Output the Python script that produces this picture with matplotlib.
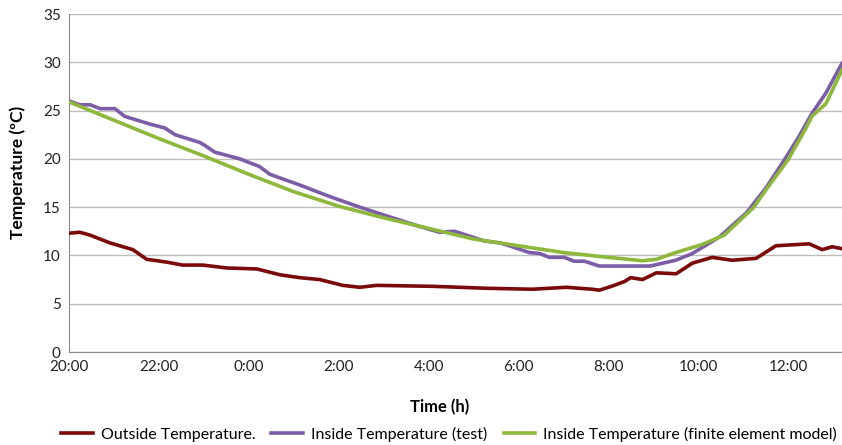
# -*- coding: utf-8 -*-
# temperature test vs finite element model, 20:00 -> ~13:10
import matplotlib
matplotlib.use('Agg')
import matplotlib.pyplot as plt

# hours after 20:00
outside_h = [0.0, 0.24, 0.47, 0.91, 1.42, 1.73, 2.18, 2.53, 2.98, 3.51, 4.18, 4.69,
             5.13, 5.58, 6.09, 6.47, 6.84, 8.09, 9.29, 10.31, 11.07, 11.64, 11.8,
             12.07, 12.36, 12.5, 12.76, 13.07, 13.51, 13.87, 14.31, 14.76, 15.29,
             15.73, 16.47, 16.76, 16.98, 17.2]
outside_t = [12.3, 12.4, 12.1, 11.3, 10.6, 9.6, 9.3, 9.0, 9.0, 8.7, 8.6, 8.0,
             7.7, 7.5, 6.9, 6.7, 6.9, 6.8, 6.6, 6.5, 6.7, 6.5, 6.4,
             6.8, 7.3, 7.7, 7.5, 8.2, 8.1, 9.2, 9.8, 9.5, 9.7,
             11.0, 11.2, 10.6, 10.9, 10.7]

test_h = [0.0, 0.24, 0.47, 0.69, 1.02, 1.24, 1.8, 2.13, 2.36, 2.91, 3.02, 3.24,
          3.8, 4.24, 4.47, 5.13, 5.8, 6.47, 7.13, 7.8, 8.24, 8.58, 8.91, 9.24,
          9.58, 9.8, 10.24, 10.47, 10.69, 11.02, 11.24, 11.47, 11.8, 12.4, 12.93,
          13.5, 13.87, 14.47, 15.07, 15.51, 15.96, 16.24, 16.53, 16.84, 17.2]
test_t = [26.0, 25.6, 25.6, 25.2, 25.2, 24.4, 23.6, 23.2, 22.5, 21.7, 21.4, 20.7,
          20.0, 19.2, 18.4, 17.3, 16.1, 15.0, 14.0, 13.0, 12.4, 12.5, 12.0, 11.5,
          11.3, 11.0, 10.3, 10.2, 9.8, 9.8, 9.4, 9.4, 8.9, 8.9, 8.9,
          9.5, 10.2, 11.9, 14.4, 17.0, 20.2, 22.3, 24.7, 26.8, 29.9]

model_h = [0, 1, 2, 3, 4, 5, 6, 7, 8, 9, 10, 11, 12, 12.76, 13.07, 13.5, 14.07,
           14.58, 15.24, 15.51, 16.0, 16.4, 16.53, 16.84, 17.2]
model_t = [25.9, 24.0, 22.1, 20.3, 18.4, 16.6, 15.1, 13.9, 12.8, 11.7, 11.0, 10.3,
           9.8, 9.45, 9.6, 10.3, 11.1, 12.1, 15.0, 16.8, 19.9, 23.2, 24.4, 25.7, 29.2]

tick_pos = [0, 2, 4, 6, 8, 10, 12, 14, 16]
tick_labels = ['20:00', '22:00', '0:00', '2:00', '4:00', '6:00', '8:00', '10:00', '12:00']

labels = ['Outside Temperature.', 'Inside Temperature (test)',
          'Inside Temperature (finite element model)']
colors = ['#7B0A0A', '#7C5DA8', '#8DB83B']

################################################################################

plt.rcParams['font.family'] = ['Lato', 'DejaVu Sans']

fig = plt.figure(figsize=(8.42, 4.45), dpi=100)
ax = fig.add_axes([69 / 842, 1 - 352 / 445, 1 - 69 / 842, 338 / 445])

ax.plot(outside_h, outside_t, color=colors[0], lw=2.6, label=labels[0], zorder=3)
ax.plot(test_h, test_t, color=colors[1], lw=2.6, label=labels[1], zorder=3)
ax.plot(model_h, model_t, color=colors[2], lw=2.6, label=labels[2], zorder=4)

ax.set_xlim(0, 17.2)
ax.set_ylim(0, 35)
ax.set_yticks(range(0, 36, 5))
ax.set_xticks(tick_pos)
ax.set_xticklabels(tick_labels)
ax.tick_params(length=0, labelsize=11, colors='#222222', pad=6)

ax.grid(axis='y', color='#BDBDBD', lw=1)
ax.set_axisbelow(True)
for s in ['top', 'right']:
    ax.spines[s].set_visible(False)
ax.spines['left'].set_color('#8A8A8A')
ax.spines['bottom'].set_color('#8A8A8A')

fig.text(18 / 842, 1 - 172 / 445, 'Temperature (ºC)', rotation=90, fontsize=12.5,
         fontweight='bold', ha='center', va='center')
fig.text(440 / 842, 1 - 407 / 445, 'Time (h)', fontsize=12, fontweight='bold',
         ha='center', va='center')

fig.legend(loc='center', bbox_to_anchor=(449 / 842, 1 - 434 / 445), ncol=3,
           frameon=False, fontsize=11.5, handlelength=2.0, columnspacing=1.0,
           handletextpad=0.5)

fig.savefig('out.png', dpi=100)
